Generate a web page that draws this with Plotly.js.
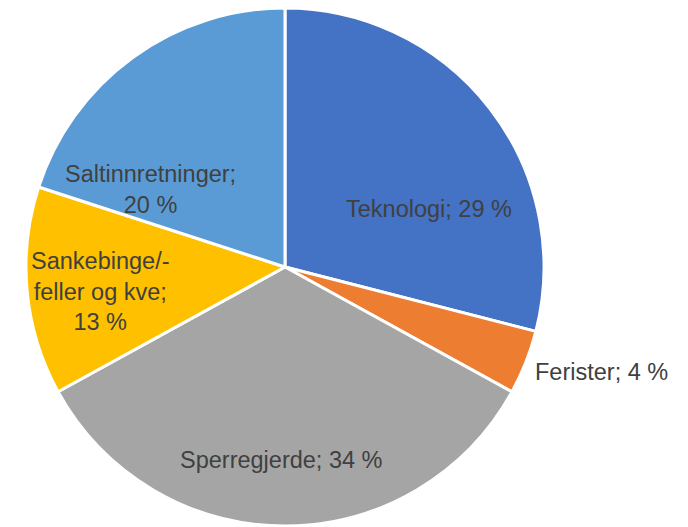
<!DOCTYPE html>
<html><head><meta charset="utf-8">
<script src="https://cdn.plot.ly/plotly-3.0.1.min.js"></script>
<style>html,body{margin:0;padding:0;background:#fff}#c{width:688px;height:527px}</style>
</head><body><div id="c"></div>
<script>
// ---- data ----
const categories = ["Teknologi", "Ferister", "Sperregjerde", "Sankebinge/-<br>feller og kve", "Saltinnretninger"];
const values = [29, 4, 34, 13, 20];
const separators = ["; ", "; ", "; ", ";<br>", ";<br>"];
const colors = ["#4472C4", "#ED7D31", "#A5A5A5", "#FFC000", "#5B9BD5"];

// ---- label placement style (Excel "best fit"): angle clockwise from 12 o'clock, radius fraction
const labelPolar = [[67.9, 0.60], [108.4, 1.286], [181, 0.745], [262.3, 0.72], [300, 0.60]];

const W = 688, H = 527;
const dom = {x: [26/W, 544/W], y: [1/H, 519/H]};
const FONT = {family: "Liberation Sans, Arial, sans-serif", size: 23.5, color: "#404040"};

const labelText = categories.map((c, i) => c + separators[i] + values[i] + " %");

const trace = {
  type: "pie",
  labels: categories,
  values: values,
  textinfo: "none",
  sort: false,
  direction: "clockwise",
  rotation: 0,
  marker: {colors: colors, line: {color: "#ffffff", width: 3}},
  domain: dom,
  hoverinfo: "none",
  automargin: false
};

// pie centre and radius in pixels, from the domain
const cx = (dom.x[0] + dom.x[1]) / 2 * W;
const cy = (1 - (dom.y[0] + dom.y[1]) / 2) * H;
const R = Math.min((dom.x[1] - dom.x[0]) * W, (dom.y[1] - dom.y[0]) * H) / 2;

const annotations = labelPolar.map((p, i) => {
  const a = p[0] * Math.PI / 180;
  const px = cx + p[1] * R * Math.sin(a);
  const py = cy - p[1] * R * Math.cos(a);
  return {
    xref: "paper", yref: "paper", x: px / W, y: 1 - py / H,
    xanchor: "center", yanchor: "middle", align: "center",
    text: labelText[i], showarrow: false, font: FONT
  };
});

const layout = {
  width: W, height: H,
  margin: {l: 0, r: 0, t: 0, b: 0},
  showlegend: false,
  paper_bgcolor: "#ffffff",
  annotations: annotations
};
Plotly.newPlot("c", [trace], layout, {displayModeBar: false, staticPlot: true});
</script></body></html>
